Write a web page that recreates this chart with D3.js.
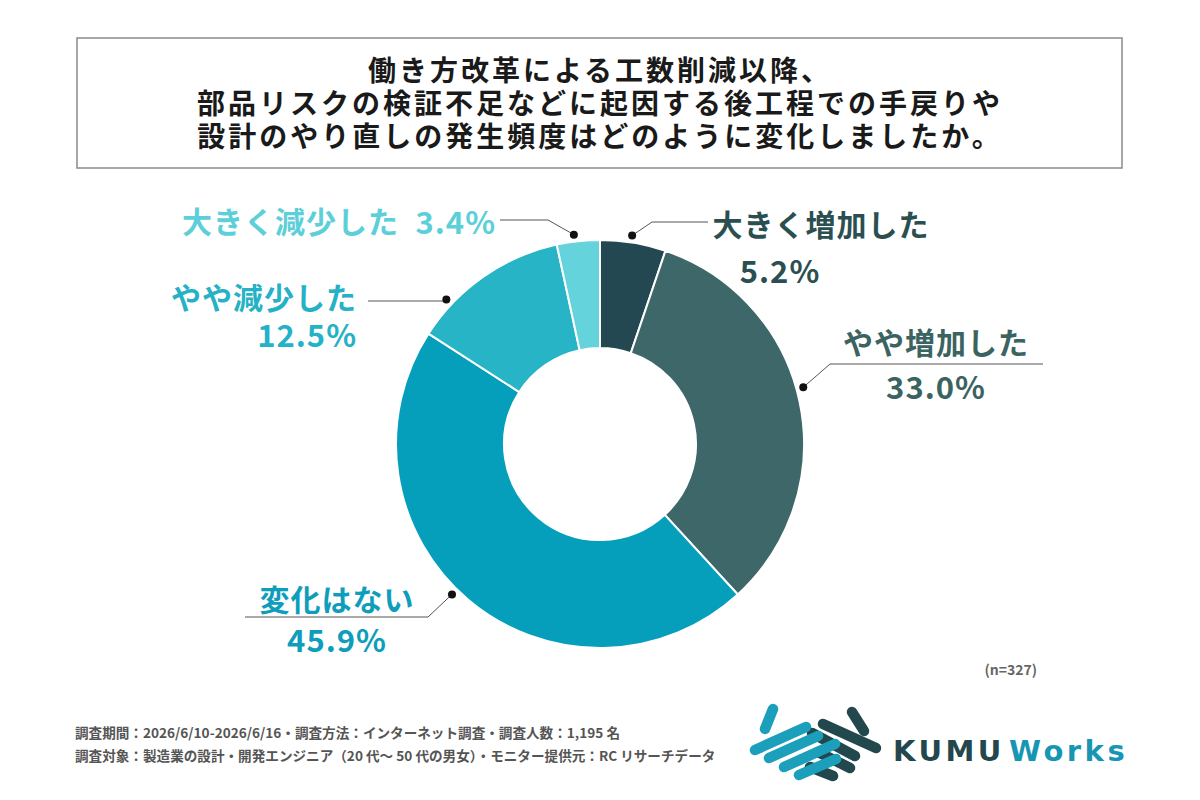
<!DOCTYPE html>
<html>
<head>
<meta charset="utf-8">
<script src="https://cdn.jsdelivr.net/npm/d3@7"></script>
<style>
  html, body { margin: 0; padding: 0; background: #fff; }
  svg { display: block; font-family: "Noto Sans CJK JP", "Noto Sans", sans-serif; }
</style>
</head>
<body>
<div id="chart"></div>
<script>
// survey answers, clockwise from 12 o'clock
const categories = ['大きく増加した', 'やや増加した', '変化はない', 'やや減少した', '大きく減少した'];
const values = [5.2, 33.0, 45.9, 12.5, 3.4];
const sliceColors = ['#244851', '#3d6768', '#069fbb', '#27b4c6', '#65d3dc'];
const labelColors = ['#2b4f51', '#3a6361', '#0e9dbb', '#25b1c6', '#5ccfd9'];

const titleLines = [
  '働き方改革による工数削減以降、',
  '部品リスクの検証不足などに起因する後工程での手戻りや',
  '設計のやり直しの発生頻度はどのように変化しましたか。'
];
const footerLines = [
  '調査期間：2026/6/10-2026/6/16・調査方法：インターネット調査・調査人数：1,195 名',
  '調査対象：製造業の設計・開発エンジニア（20 代〜 50 代の男女）・モニター提供元：RC リサーチデータ'
];
const sampleNote = '(n=327)';

const width = 1200, height = 800;
const cx = 600, cy = 444, outerR = 204, innerR = 96;

const svg = d3.select('#chart').append('svg')
  .attr('width', width)
  .attr('height', height);

// title box
svg.append('rect')
  .attr('x', 77).attr('y', 38)
  .attr('width', 1045).attr('height', 130)
  .attr('fill', '#fff')
  .attr('stroke', '#8a8a8a')
  .attr('stroke-width', 1.5);

svg.append('g').selectAll('text')
  .data(titleLines)
  .enter()
  .append('text')
  .attr('x', 600)
  .attr('y', (d, i) => 81 + i * 33)
  .attr('text-anchor', 'middle')
  .style('font-size', '28px')
  .style('font-weight', 700)
  .style('letter-spacing', '3px')
  .style('fill', '#1a1a1a')
  .text(d => d);

// donut
const pie = d3.pie().sort(null).value(d => d);
const arcs = pie(values);
const arc = d3.arc().innerRadius(innerR).outerRadius(outerR);

const g = svg.append('g').attr('transform', `translate(${cx},${cy})`);
g.selectAll('path')
  .data(arcs)
  .enter()
  .append('path')
  .attr('d', arc)
  .attr('fill', (d, i) => sliceColors[i])
  .attr('stroke', '#fff')
  .attr('stroke-width', 2);

// label layout: dot angle nudge (deg), leader path, name and percent positions
const labelLayout = [
  { nudge: -0.6, bend: [652, 222], end: [708, 222],
    name: { x: 821, y: 236, a: 'middle' }, pct: { x: 780, y: 283, a: 'middle' } },
  { nudge: -3.7, bend: [830, 364], end: [1043, 364],
    name: { x: 936, y: 354, a: 'middle' }, pct: { x: 936, y: 399, a: 'middle' } },
  { nudge: 4.4, bend: [428, 617], end: [245, 617],
    name: { x: 337, y: 611, a: 'middle' }, pct: { x: 337, y: 652, a: 'middle' } },
  { nudge: -12, bend: [446, 301], end: [368, 301],
    name: { x: 357, y: 309, a: 'end' }, pct: { x: 357, y: 347, a: 'end' } },
  { nudge: -1, bend: [548, 220], end: [500, 220],
    name: { x: 399, y: 233, a: 'end' }, pct: { x: 496, y: 234, a: 'end' } }
];

const dotR = outerR + 7;
const labels = svg.append('g');
arcs.forEach((d, i) => {
  const L = labelLayout[i];
  const ang = (d.startAngle + d.endAngle) / 2 + L.nudge * Math.PI / 180;
  const px = cx + dotR * Math.sin(ang);
  const py = cy - dotR * Math.cos(ang);

  labels.append('path')
    .attr('d', d3.line()([[px, py], L.bend, L.end]))
    .attr('fill', 'none')
    .attr('stroke', '#555')
    .attr('stroke-width', 1);
  labels.append('circle')
    .attr('cx', px).attr('cy', py).attr('r', 4)
    .attr('fill', '#111');

  labels.append('text')
    .attr('x', L.name.x).attr('y', L.name.y)
    .attr('text-anchor', L.name.a)
    .style('font-size', '30px')
    .style('font-weight', 700)
    .style('letter-spacing', '1px')
    .style('fill', labelColors[i])
    .text(categories[i]);

  labels.append('text')
    .attr('x', L.pct.x).attr('y', L.pct.y)
    .attr('text-anchor', L.pct.a)
    .style('font-size', '31px')
    .style('font-weight', 700)
    .style('letter-spacing', '1px')
    .style('fill', labelColors[i])
    .text(values[i].toFixed(1) + '%');
});

// sample size
svg.append('text')
  .attr('x', 1037).attr('y', 675)
  .attr('text-anchor', 'end')
  .style('font-size', '14px')
  .style('font-weight', 700)
  .style('fill', '#666')
  .text(sampleNote);

// footer notes
svg.append('g').selectAll('text')
  .data(footerLines)
  .enter()
  .append('text')
  .attr('x', 75)
  .attr('y', (d, i) => 738 + i * 23)
  .style('font-size', '13.6px')
  .style('font-weight', 700)
  .style('fill', '#555')
  .text(d => d);

// logo mark
const darkStrokes = [
  [[812, 733], [855, 756]], [[818, 752], [850, 768]], [[810, 767], [833, 776]],
  [[852, 712], [864, 731]], [[823, 724], [876, 748]]
];
const lightStrokes = [
  [[773, 709], [765, 729]], [[755, 750], [806, 727]], [[769, 758], [818, 736]],
  [[784, 767], [835, 744]], [[799, 775], [836, 759]]
];
const logo = svg.append('g').attr('stroke-linecap', 'round').attr('stroke-width', 10.5);
logo.selectAll('line.dk').data(darkStrokes).enter().append('line')
  .attr('x1', d => d[0][0]).attr('y1', d => d[0][1])
  .attr('x2', d => d[1][0]).attr('y2', d => d[1][1])
  .attr('stroke', '#22474d');
logo.selectAll('line.lt').data(lightStrokes).enter().append('line')
  .attr('x1', d => d[0][0]).attr('y1', d => d[0][1])
  .attr('x2', d => d[1][0]).attr('y2', d => d[1][1])
  .attr('stroke', '#1c9fbb');

const logoText = svg.append('text')
  .attr('x', 893).attr('y', 761)
  .style('font-family', '"DejaVu Sans", sans-serif')
  .style('font-size', '29px')
  .style('font-weight', 700)
  .style('letter-spacing', '3.5px');
logoText.append('tspan').style('fill', '#23474c').text('KUMU');
logoText.append('tspan').attr('dx', 4).style('fill', '#1796b4').text('Works');
</script>
</body>
</html>
